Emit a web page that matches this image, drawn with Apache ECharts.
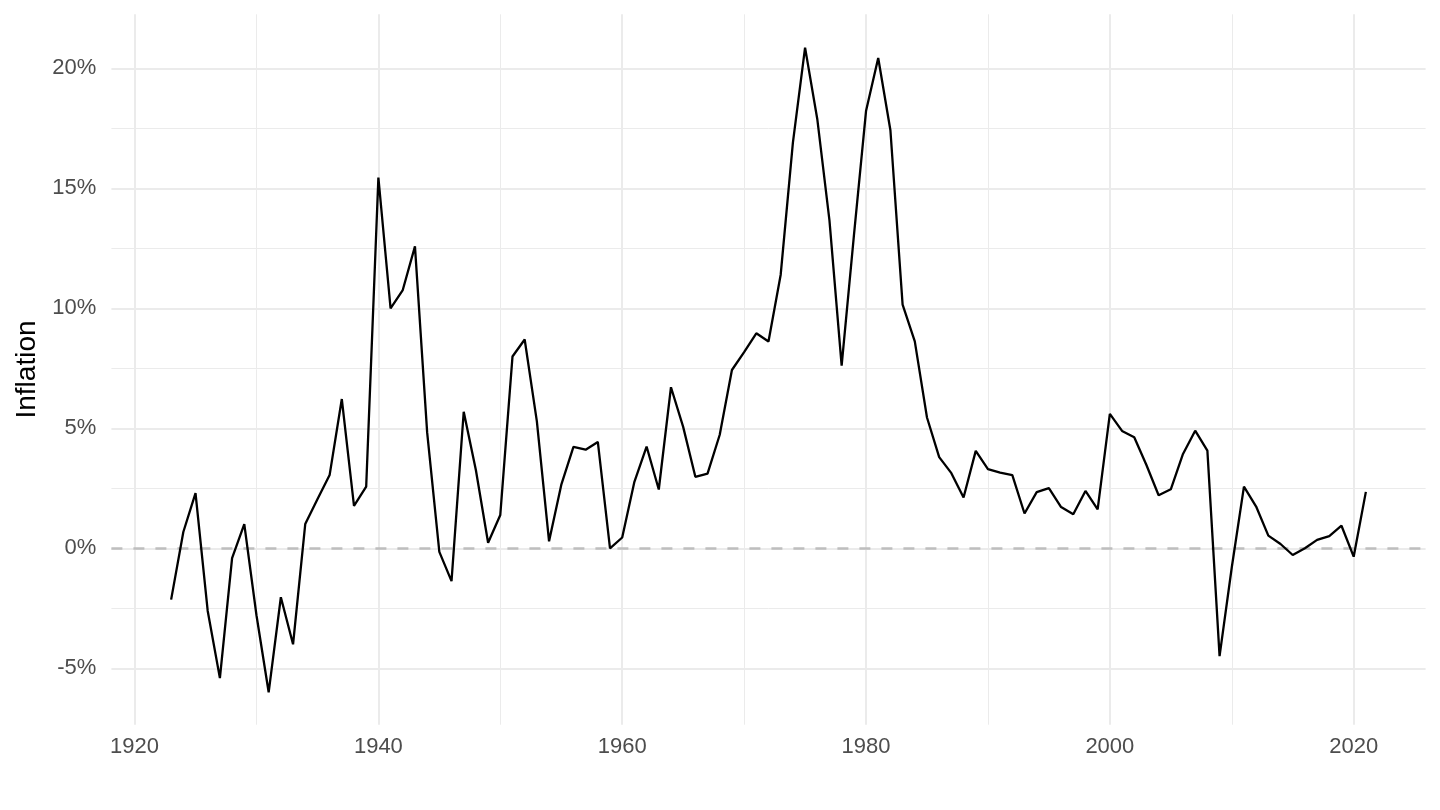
<!DOCTYPE html>
<html>
<head>
<meta charset="utf-8">
<script src="https://cdn.jsdelivr.net/npm/echarts@6/dist/echarts.min.js"></script>
<style>
  html, body { margin: 0; padding: 0; background: #fff; }
  #chart { width: 1440px; height: 810px; }
</style>
</head>
<body>
<div id="chart"></div>
<script>
// Years of the series
const years = [
  1923,1924,1925,1926,1927,1928,1929,1930,1931,1932,1933,1934,1935,1936,1937,1938,1939,
  1940,1941,1942,1943,1944,1945,1946,1947,1948,1949,1950,1951,1952,1953,1954,1955,1956,1957,1958,1959,
  1960,1961,1962,1963,1964,1965,1966,1967,1968,1969,1970,1971,1972,1973,1974,1975,1976,1977,1978,1979,
  1980,1981,1982,1983,1984,1985,1986,1987,1988,1989,1990,1991,1992,1993,1994,1995,1996,1997,1998,1999,
  2000,2001,2002,2003,2004,2005,2006,2007,2008,2009,2010,2011,2012,2013,2014,2015,2016,2017,2018,2019,
  2020,2021
];
// Inflation in percent
const inflation = [
  -2.14,0.68,2.30,-2.61,-5.41,-0.41,1.01,-2.79,-6.00,-2.04,-4.00,1.01,2.04,3.05,6.22,1.77,2.57,
  15.45,10.00,10.76,12.58,4.83,-0.15,-1.37,5.69,3.25,0.23,1.39,7.99,8.70,5.29,0.29,2.64,4.23,4.11,4.43,0.00,
  0.45,2.77,4.24,2.45,6.71,5.06,2.98,3.11,4.73,7.43,8.17,8.96,8.62,11.40,16.89,20.86,17.89,13.66,7.61,13.0,
  18.22,20.43,17.42,10.15,8.62,5.45,3.80,3.13,2.12,4.06,3.30,3.15,3.05,1.45,2.34,2.51,1.72,1.42,2.39,1.62,
  5.60,4.89,4.63,3.47,2.21,2.46,3.93,4.90,4.07,-4.49,-0.80,2.57,1.74,0.53,0.18,-0.28,0.00,0.35,0.51,0.94,
  -0.35,2.35
];
// Tick labels / grid positions
const xTicks = [1920, 1940, 1960, 1980, 2000, 2020];
const xMinor = [1930, 1950, 1970, 1990, 2010];
const yTicks = [-5, 0, 5, 10, 15, 20];
const yMinor = [-2.5, 2.5, 7.5, 12.5, 17.5];
const yTitle = 'Inflation';

const FONT = "'Liberation Sans', Arial, Helvetica, sans-serif";
const GRID = '#ebebeb';

const gridLines = [];
xTicks.forEach(v => gridLines.push({ xAxis: v, lineStyle: { color: GRID, width: 2, type: 'solid' } }));
xMinor.forEach(v => gridLines.push({ xAxis: v, lineStyle: { color: GRID, width: 1, type: 'solid' } }));
yTicks.forEach(v => gridLines.push({ yAxis: v, lineStyle: { color: GRID, width: 2, type: 'solid' } }));
yMinor.forEach(v => gridLines.push({ yAxis: v, lineStyle: { color: GRID, width: 1, type: 'solid' } }));

const chart = echarts.init(document.getElementById('chart'), null, { renderer: 'canvas' });
chart.setOption({
  animation: false,
  backgroundColor: '#ffffff',
  grid: { left: 111.4, right: 14.4, top: 14.3, bottom: 85.3, containLabel: false },
  xAxis: {
    type: 'value',
    min: 1918.1,
    max: 2025.9,
    axisLine: { show: false },
    axisTick: { show: false },
    splitLine: { show: false },
    axisLabel: {
      customValues: xTicks,
      color: '#4d4d4d',
      fontSize: 22,
      fontFamily: FONT,
      margin: 11,
      formatter: v => String(v)
    }
  },
  yAxis: {
    type: 'value',
    min: -7.35,
    max: 22.25,
    axisLine: { show: false },
    axisTick: { show: false },
    splitLine: { show: false },
    axisLabel: {
      customValues: yTicks,
      color: '#4d4d4d',
      fontSize: 22,
      fontFamily: FONT,
      margin: 15,
      formatter: v => v + '%'
    },
    name: yTitle,
    nameLocation: 'middle',
    nameGap: 68,
    nameTextStyle: { color: '#000000', fontSize: 28, fontFamily: FONT }
  },
  series: [
    {
      type: 'line',
      data: [],
      z: 1,
      silent: true,
      markLine: {
        z: 1,
        silent: true,
        symbol: ['none', 'none'],
        label: { show: false },
        animation: false,
        data: gridLines
      }
    },
    {
      type: 'line',
      data: [],
      z: 2,
      silent: true,
      markLine: {
        z: 2,
        silent: true,
        symbol: ['none', 'none'],
        label: { show: false },
        animation: false,
        data: [{ yAxis: 0, lineStyle: { color: '#bebebe', width: 2.5, type: [11, 11] } }]
      }
    },
    {
      type: 'line',
      z: 10,
      data: years.map((y, i) => [y, inflation[i]]),
      showSymbol: false,
      symbol: 'none',
      lineStyle: { color: '#000000', width: 2.3 },
      silent: true
    }
  ]
});
</script>
</body>
</html>
